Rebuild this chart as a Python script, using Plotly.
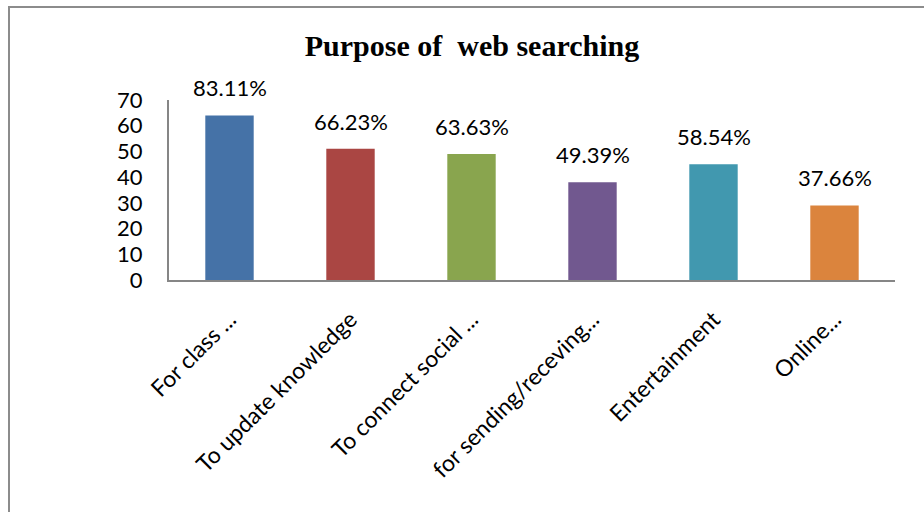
import plotly.graph_objects as go

# Survey of 77 respondents: purpose of web searching
categories = [
    "For class ...",
    "To update knowledge",
    "To connect social ...",
    "for sending/receving...",
    "Entertainment",
    "Online...",
]
percent_labels = ["83.11%", "66.23%", "63.63%", "49.39%", "58.54%", "37.66%"]
percent_values = [83.11, 66.23, 63.63, 49.39, 58.54, 37.66]
respondents = 77
counts = [round(p * respondents / 100) for p in percent_values]
bar_colors = ["#4572A7", "#AA4643", "#89A54E", "#71588F", "#4198AF", "#DB843D"]
y_ticks = [0, 10, 20, 30, 40, 50, 60, 70]

W, H = 924, 512
M_L, M_R, M_T, M_B = 169, 29, 100, 232
plot_w = W - M_L - M_R
plot_h = H - M_T - M_B

label_font = dict(family="Lato, Carlito, sans-serif", size=22, color="#000000")
cat_font = dict(family="Lato, Carlito, sans-serif", size=23, color="#000000")

fig = go.Figure(
    go.Bar(
        x=categories,
        y=counts,
        marker=dict(color=bar_colors, line=dict(width=0)),
        hoverinfo="skip",
    )
)

# value labels above each bar
for cat, cnt, lab in zip(categories, counts, percent_labels):
    fig.add_annotation(
        x=cat, y=cnt, text=lab, showarrow=False,
        xanchor="center", yanchor="bottom", yshift=12,
        font=label_font,
    )

# chart frame (left and top edges visible in the canvas)
def px_to_paper_x(px):
    return (px - M_L) / plot_w

def px_to_paper_y(py):
    return (H - M_B - py) / plot_h

frame_color = "#8C8C8C"
fig.add_shape(type="line", xref="paper", yref="paper",
              x0=px_to_paper_x(9), x1=px_to_paper_x(9),
              y0=px_to_paper_y(7), y1=px_to_paper_y(520),
              line=dict(color=frame_color, width=2))
fig.add_shape(type="line", xref="paper", yref="paper",
              x0=px_to_paper_x(8), x1=px_to_paper_x(930),
              y0=px_to_paper_y(7), y1=px_to_paper_y(7),
              line=dict(color=frame_color, width=2))

fig.update_layout(
    width=W, height=H,
    margin=dict(l=M_L, r=M_R, t=M_T, b=M_B, autoexpand=False),
    paper_bgcolor="white", plot_bgcolor="white",
    bargap=0.6,
    showlegend=False,
    title=dict(
        text="<b>Purpose of  web searching</b>",
        x=472 / W, xanchor="center",
        y=1 - 45 / H, yanchor="middle",
        font=dict(family="Liberation Serif, Times New Roman, serif", size=30, color="#000000"),
    ),
    xaxis=dict(
        showline=True, linecolor="#868686", linewidth=2,
        showgrid=False, zeroline=False,
        ticks="", tickangle=-45, ticklabelstandoff=15,
        tickfont=cat_font,
    ),
    yaxis=dict(
        range=[0, 70], tickvals=y_ticks,
        showline=True, linecolor="#868686", linewidth=2,
        showgrid=False, zeroline=False,
        ticks="", ticklabelstandoff=20,
        tickfont=label_font,
    ),
)

fig.write_html("out.html")
